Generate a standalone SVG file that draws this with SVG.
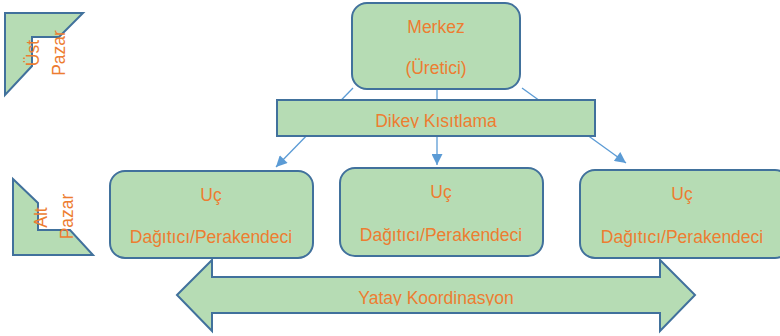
<svg xmlns="http://www.w3.org/2000/svg" width="780" height="336" viewBox="0 0 780 336">
<style>
.shape{fill:#b6dcb4;stroke:#41719c;stroke-width:2;stroke-linejoin:miter}
.lbl{font-family:"Liberation Sans",Arial,sans-serif;font-size:17.5px;fill:#ed7d31;text-anchor:middle}
.conn{stroke:#5b9bd5;stroke-width:1.3;fill:none}
</style>
<defs>
<marker id="ah" viewBox="0 0 10 10" refX="10" refY="5" markerWidth="12" markerHeight="11" markerUnits="userSpaceOnUse" orient="auto">
<path d="M0,0 L10,5 L0,10 z" fill="#5b9bd5"/>
</marker>
<clipPath id="clipDikey"><rect x="277" y="100" width="318" height="28"/></clipPath>
<clipPath id="clipYatay"><rect x="170" y="260" width="530" height="45.5"/></clipPath>
</defs>

<g id="ust-pazar">
<polygon class="shape" points="5,13 83,13 59,37 32,37 32,66 5,95"/>
<text class="lbl" transform="translate(39,53) rotate(-90)">Üst</text>
<text class="lbl" transform="translate(65,53) rotate(-90)">Pazar</text>
</g>

<g id="alt-pazar">
<polygon class="shape" points="13,179 38,203 38,230 70,230 93,255 13,255"/>
<text class="lbl" transform="translate(47,217.5) rotate(-90)">Alt</text>
<text class="lbl" transform="translate(73,216.5) rotate(-90)">Pazar</text>
</g>

<g id="connectors">
<line class="conn" x1="353" y1="88" x2="276" y2="167" marker-end="url(#ah)"/>
<line class="conn" x1="437" y1="90" x2="437" y2="165" marker-end="url(#ah)"/>
<line class="conn" x1="522" y1="88" x2="626" y2="163" marker-end="url(#ah)"/>
</g>

<g id="merkez">
<rect class="shape" x="352" y="3" width="168" height="86" rx="15"/>
<text class="lbl" x="436" y="33">Merkez</text>
<text class="lbl" x="436" y="74">(Üretici)</text>
</g>

<g id="dikey">
<rect class="shape" x="277" y="100" width="318" height="36"/>
<text class="lbl" x="436" y="127" clip-path="url(#clipDikey)">Dikey Kısıtlama</text>
</g>

<g id="uc-left">
<rect class="shape" x="110" y="171" width="203" height="87" rx="15"/>
<text class="lbl" x="211" y="201">Uç</text>
<text class="lbl" x="211" y="243">Dağıtıcı/Perakendeci</text>
</g>

<g id="uc-middle">
<rect class="shape" x="340" y="168" width="203" height="88" rx="15"/>
<text class="lbl" x="441" y="198">Uç</text>
<text class="lbl" x="441" y="241">Dağıtıcı/Perakendeci</text>
</g>

<g id="uc-right">
<rect class="shape" x="580" y="170" width="210" height="88" rx="15"/>
<text class="lbl" x="682" y="200">Uç</text>
<text class="lbl" x="682" y="243">Dağıtıcı/Perakendeci</text>
</g>

<g id="yatay">
<polygon class="shape" points="177,295 212,260 212,277 660,277 660,260 695,295 660,331 660,313 212,313 212,331"/>
<text class="lbl" x="436" y="304" clip-path="url(#clipYatay)">Yatay Koordinasyon</text>
</g>
</svg>
